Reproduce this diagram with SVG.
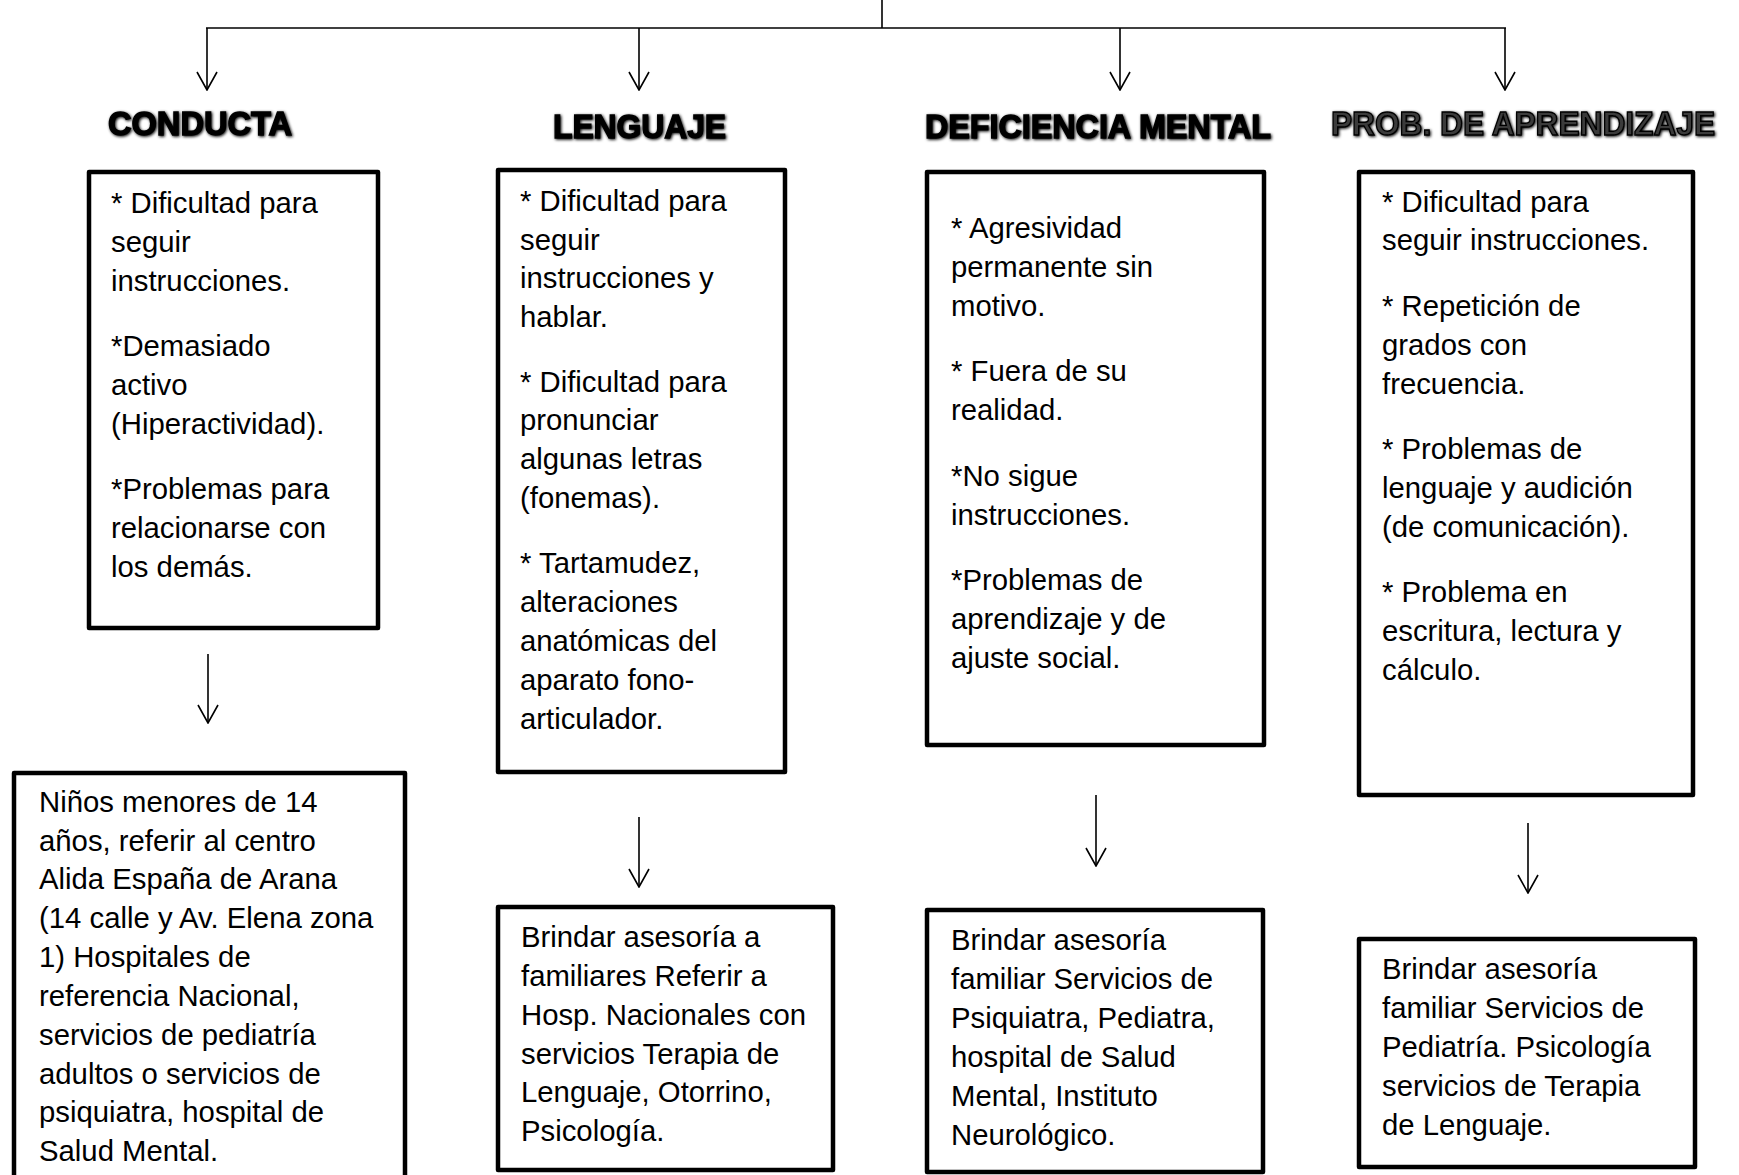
<svg xmlns="http://www.w3.org/2000/svg" width="1739" height="1175" viewBox="0 0 1739 1175">
<style>
.box{fill:#fff;stroke:#000;stroke-width:4.5;stroke-linejoin:round}
.t{font-family:"Liberation Sans",Arial,sans-serif;font-size:29.3px;fill:#000}
.h{font-family:"Liberation Sans",Arial,sans-serif;font-size:34px;font-weight:bold;fill:#000;stroke:#000;stroke-width:1.4;filter:url(#glow)}
.h2{fill:#3a3a3a;stroke:#000;stroke-width:1.4}
.c{fill:none;stroke:#000;stroke-width:1.6}
</style>
<defs>
<marker id="ah" viewBox="0 0 20 22" refX="19" refY="11" markerWidth="20" markerHeight="22" markerUnits="userSpaceOnUse" orient="auto">
<path d="M1,1 L19,11 L1,21" fill="none" stroke="#000" stroke-width="1.6"/>
</marker>
<filter id="glow" x="-5%" y="-40%" width="110%" height="180%">
<feGaussianBlur in="SourceAlpha" stdDeviation="1.6" result="b"/>
<feOffset in="b" dx="0.5" dy="1" result="o"/>
<feMerge><feMergeNode in="o"/><feMergeNode in="SourceGraphic"/></feMerge>
</filter>
</defs>
<rect width="1739" height="1175" fill="#fff"/>
<g id="connectors">
<path class="c" d="M882,0 V28"/>
<path class="c" d="M206,28 H1506"/>
<path class="c" d="M207,28 V90" marker-end="url(#ah)"/>
<path class="c" d="M639,28 V90" marker-end="url(#ah)"/>
<path class="c" d="M1120,28 V90" marker-end="url(#ah)"/>
<path class="c" d="M1505,28 V90" marker-end="url(#ah)"/>
<path class="c" d="M208,654 V723" marker-end="url(#ah)"/>
<path class="c" d="M639,817 V887" marker-end="url(#ah)"/>
<path class="c" d="M1096,795 V866" marker-end="url(#ah)"/>
<path class="c" d="M1528,823 V893" marker-end="url(#ah)"/>
</g>
<g id="h-conducta"><text class="h" x="108" y="135" textLength="184" lengthAdjust="spacingAndGlyphs">CONDUCTA</text></g>
<g id="h-lenguaje"><text class="h" x="553" y="138" textLength="173" lengthAdjust="spacingAndGlyphs">LENGUAJE</text></g>
<g id="h-deficiencia"><text class="h" x="925" y="138" textLength="346" lengthAdjust="spacingAndGlyphs">DEFICIENCIA MENTAL</text></g>
<g id="h-aprendizaje"><text class="h h2" x="1331" y="135" textLength="384" lengthAdjust="spacingAndGlyphs">PROB. DE APRENDIZAJE</text></g>
<g id="s-conducta">
<rect class="box" x="89" y="172" width="289" height="456"/>
<text class="t"><tspan x="111" y="213">* Dificultad para</tspan><tspan x="111" y="252">seguir</tspan><tspan x="111" y="291">instrucciones.</tspan><tspan x="111" y="356">*Demasiado</tspan><tspan x="111" y="395">activo</tspan><tspan x="111" y="434">(Hiperactividad).</tspan><tspan x="111" y="499">*Problemas para</tspan><tspan x="111" y="538">relacionarse con</tspan><tspan x="111" y="577">los demás.</tspan></text>
</g>
<g id="s-lenguaje">
<rect class="box" x="498" y="170" width="287" height="602"/>
<text class="t"><tspan x="520" y="211">* Dificultad para</tspan><tspan x="520" y="250">seguir</tspan><tspan x="520" y="288">instrucciones y</tspan><tspan x="520" y="327">hablar.</tspan><tspan x="520" y="392">* Dificultad para</tspan><tspan x="520" y="430">pronunciar</tspan><tspan x="520" y="469">algunas letras</tspan><tspan x="520" y="508">(fonemas).</tspan><tspan x="520" y="573">* Tartamudez,</tspan><tspan x="520" y="612">alteraciones</tspan><tspan x="520" y="651">anatómicas del</tspan><tspan x="520" y="690">aparato fono-</tspan><tspan x="520" y="729">articulador.</tspan></text>
</g>
<g id="s-deficiencia">
<rect class="box" x="927" y="172" width="337" height="573"/>
<text class="t"><tspan x="951" y="238">* Agresividad</tspan><tspan x="951" y="277">permanente sin</tspan><tspan x="951" y="316">motivo.</tspan><tspan x="951" y="381">* Fuera de su</tspan><tspan x="951" y="420">realidad.</tspan><tspan x="951" y="486">*No sigue</tspan><tspan x="951" y="525">instrucciones.</tspan><tspan x="951" y="590">*Problemas de</tspan><tspan x="951" y="629">aprendizaje y de</tspan><tspan x="951" y="668">ajuste social.</tspan></text>
</g>
<g id="s-aprendizaje">
<rect class="box" x="1359" y="172" width="334" height="623"/>
<text class="t"><tspan x="1382" y="212">* Dificultad para</tspan><tspan x="1382" y="250">seguir instrucciones.</tspan><tspan x="1382" y="316">* Repetición de</tspan><tspan x="1382" y="355">grados con</tspan><tspan x="1382" y="394">frecuencia.</tspan><tspan x="1382" y="459">* Problemas de</tspan><tspan x="1382" y="498">lenguaje y audición</tspan><tspan x="1382" y="537">(de comunicación).</tspan><tspan x="1382" y="602">* Problema en</tspan><tspan x="1382" y="641">escritura, lectura y</tspan><tspan x="1382" y="680">cálculo.</tspan></text>
</g>
<g id="r-conducta">
<rect class="box" x="14" y="773" width="391" height="420"/>
<text class="t"><tspan x="39" y="812">Niños menores de 14</tspan><tspan x="39" y="851">años, referir al centro</tspan><tspan x="39" y="889">Alida España de Arana</tspan><tspan x="39" y="928">(14 calle y Av. Elena zona</tspan><tspan x="39" y="967">1) Hospitales de</tspan><tspan x="39" y="1006">referencia Nacional,</tspan><tspan x="39" y="1045">servicios de pediatría</tspan><tspan x="39" y="1084">adultos o servicios de</tspan><tspan x="39" y="1122">psiquiatra, hospital de</tspan><tspan x="39" y="1161">Salud Mental.</tspan></text>
</g>
<g id="r-lenguaje">
<rect class="box" x="498" y="907" width="335" height="263"/>
<text class="t"><tspan x="521" y="947">Brindar asesoría a</tspan><tspan x="521" y="986">familiares Referir a</tspan><tspan x="521" y="1025">Hosp. Nacionales con</tspan><tspan x="521" y="1064">servicios Terapia de</tspan><tspan x="521" y="1102">Lenguaje, Otorrino,</tspan><tspan x="521" y="1141">Psicología.</tspan></text>
</g>
<g id="r-deficiencia">
<rect class="box" x="927" y="910" width="336" height="262"/>
<text class="t"><tspan x="951" y="950">Brindar asesoría</tspan><tspan x="951" y="989">familiar Servicios de</tspan><tspan x="951" y="1028">Psiquiatra, Pediatra,</tspan><tspan x="951" y="1067">hospital de Salud</tspan><tspan x="951" y="1106">Mental, Instituto</tspan><tspan x="951" y="1145">Neurológico.</tspan></text>
</g>
<g id="r-aprendizaje">
<rect class="box" x="1359" y="939" width="336" height="228"/>
<text class="t"><tspan x="1382" y="979">Brindar asesoría</tspan><tspan x="1382" y="1018">familiar Servicios de</tspan><tspan x="1382" y="1057">Pediatría. Psicología</tspan><tspan x="1382" y="1096">servicios de Terapia</tspan><tspan x="1382" y="1135">de Lenguaje.</tspan></text>
</g>
</svg>
